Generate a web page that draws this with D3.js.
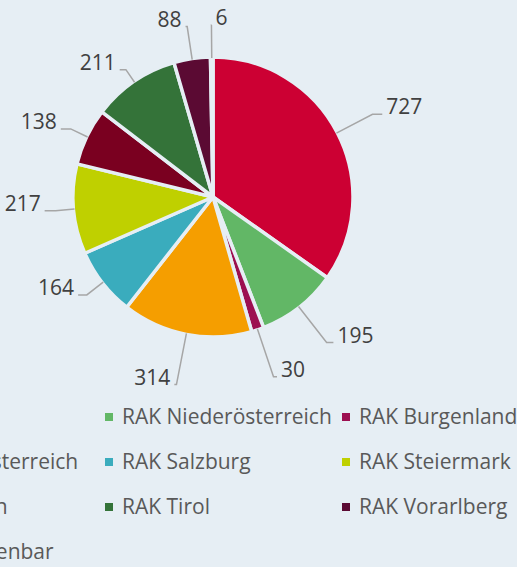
<!DOCTYPE html>
<html>
<head>
<meta charset="utf-8">
<script src="https://cdn.jsdelivr.net/npm/d3@7"></script>
<style>
  html, body { margin: 0; padding: 0; background: #e6eef4; overflow: hidden; }
  svg { display: block; font-family: "Open Sans", sans-serif; }
</style>
</head>
<body>
<script>
'use strict';

// slices, clockwise from 12 o'clock
const categories = ["RAK Wien", "RAK Niederösterreich", "RAK Burgenland", "RAK Oberösterreich",
    "RAK Salzburg", "RAK Steiermark", "RAK Kärnten", "RAK Tirol", "RAK Vorarlberg", "nicht zuordenbar"];
const values = [727, 195, 30, 314, 164, 217, 138, 211, 88, 6];
const colors = ["#cc0033", "#62b766", "#9c0f50", "#f59e00", "#3aacbd",
    "#bfd000", "#7a0020", "#347339", "#5b0a33", "#d9d9d9"];

const bg = "#e6eef4";
const width = 517, height = 567;
const cx = 213, cy = 197, radius = 140;

let svg = d3.select("body").append("svg")
    .attr("width", width)
    .attr("height", height);

let data = categories.map((c, i) => ({ name: c, value: values[i], color: colors[i] }));

const pie = d3.pie().sort(null).value(d => d.value);
const arc = d3.arc().innerRadius(0).outerRadius(radius);
const arcs = pie(data);

let g = svg.append("g").attr("transform", "translate(" + cx + "," + cy + ")");

g.selectAll("path.slice")
    .data(arcs)
    .enter()
    .append("path")
    .attr("class", "slice")
    .attr("d", arc)
    .attr("fill", d => d.data.color)
    .attr("stroke", bg)
    .attr("stroke-width", 3.5)
    .attr("stroke-linejoin", "round");

// data labels with leader lines
function polar(a, r) { return [r * Math.sin(a), -r * Math.cos(a)]; }

arcs.forEach(function(d) {
    let m = (d.startAngle + d.endAngle) / 2;
    let s = Math.sin(m), c = Math.cos(m);
    let right = s > -0.05;
    // left flank labels sit closer, top ones a bit closer, bottom ones further out
    let len = s > -0.4 ? 40 : 18;
    if (c < 0) len += 12 * Math.pow(-c, 4);
    else len -= 8 * Math.pow(c, 4);
    let p0 = polar(m, radius - 1);
    let p1 = polar(m, radius + len);
    let tail = 11 * Math.abs(s);
    let p2 = [p1[0] + (right ? tail : -tail), p1[1]];

    g.append("polyline")
        .attr("points", [p0, p1, p2].map(p => p.join(",")).join(" "))
        .attr("fill", "none")
        .attr("stroke", "#a6a6a6")
        .attr("stroke-width", 1.5);

    g.append("text")
        .attr("x", p2[0] + (right ? 4 : -4))
        .attr("y", p1[1])
        .attr("text-anchor", right ? "start" : "end")
        .attr("font-size", "21px")
        .attr("fill", "#404040")
        .text(d.data.value);
});

// legend, 3 columns (left column runs off the canvas)
const legX0 = -132, legColW = 237, legY0 = 417, legRowH = 45;

let leg = svg.selectAll("g.leg")
    .data(data)
    .enter()
    .append("g")
    .attr("class", "leg")
    .attr("transform", (d, i) => "translate(" + (legX0 + (i % 3) * legColW) + "," + (legY0 + Math.floor(i / 3) * legRowH) + ")");

leg.append("rect")
    .attr("x", 0)
    .attr("y", -4)
    .attr("width", 8)
    .attr("height", 8)
    .attr("fill", d => d.color);

leg.append("text")
    .attr("x", 17)
    .attr("y", 0)
    .attr("dy", "0.35em")
    .attr("font-size", "21px")
    .attr("fill", "#595959")
    .text(d => d.name);
</script>
</body>
</html>
